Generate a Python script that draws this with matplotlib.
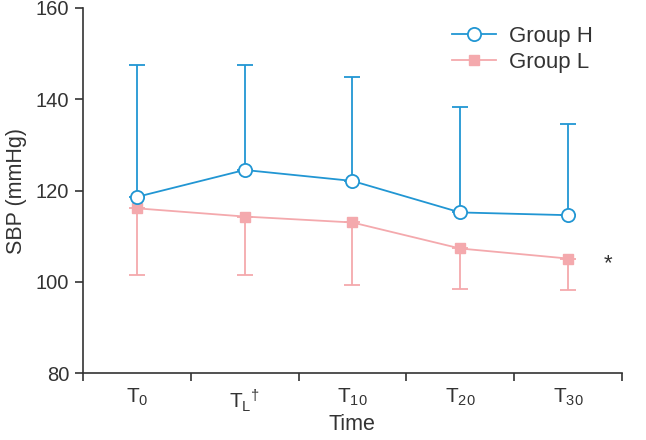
import matplotlib
matplotlib.use("Agg")
import matplotlib.pyplot as plt
from matplotlib.lines import Line2D
import numpy as np

plt.rcParams['font.family'] = ['Liberation Sans', 'DejaVu Sans']
plt.rcParams['mathtext.fontset'] = 'custom'
plt.rcParams['mathtext.rm'] = 'Liberation Sans'
plt.rcParams['mathtext.it'] = 'Liberation Sans'
plt.rcParams['mathtext.default'] = 'regular'

categories = [r'T$_0$', r'T$_L$$^†$', r'T$_{10}$', r'T$_{20}$', r'T$_{30}$']
group_h = [118.6, 124.5, 122.1, 115.2, 114.6]
group_h_upper = [147.5, 147.4, 144.9, 138.4, 134.5]
group_l = [116.1, 114.3, 113.0, 107.3, 105.1]
group_l_lower = [101.6, 101.5, 99.3, 98.5, 98.2]
yticks = [80, 100, 120, 140, 160]

blue = '#2196d3'
pink = '#f4a9ad'
axcol = '#333333'

fig = plt.figure(figsize=(6.46, 4.40), dpi=100)
ax = fig.add_axes([0.1285, 0.152, 0.834, 0.830])

x = np.arange(len(categories))
h = np.array(group_h); hu = np.array(group_h_upper)
l = np.array(group_l); ll = np.array(group_l_lower)

ax.errorbar(x, l, yerr=[l - ll, np.zeros_like(l)], color=pink, lw=1.3,
            marker='s', ms=7.5, mfc=pink, mec=pink, capsize=6, capthick=1.3,
            zorder=2)
ax.errorbar(x, h, yerr=[np.zeros_like(h), hu - h], color=blue, lw=1.3,
            marker='o', ms=9.5, mfc='white', mec=blue, mew=1.3, capsize=6,
            capthick=1.3, zorder=3)

ax.text(x[-1] + 0.37, l[-1] - 1.2, '*', fontsize=16, color=axcol, va='center', ha='center')

ax.set_xlim(-0.5, 4.5)
ax.set_ylim(80, 160)
ax.set_yticks(yticks)
ax.set_xticks(np.arange(-0.5, 4.6, 1.0))
ax.set_xticklabels([])
ax.set_xticks(x, minor=True)
ax.set_xticklabels(categories, minor=True)
ax.tick_params(axis='x', which='minor', length=0, pad=10, labelsize=15, labelcolor=axcol)
ax.tick_params(axis='x', which='major', length=6, width=1.2, color=axcol)
ax.tick_params(axis='y', length=6, width=1.2, color=axcol, labelsize=14.5, labelcolor=axcol, pad=4)

for s in ['top', 'right']:
    ax.spines[s].set_visible(False)
for s in ['left', 'bottom']:
    ax.spines[s].set_color(axcol)
    ax.spines[s].set_linewidth(1.2)

ax.set_xlabel('Time', fontsize=15.5, color=axcol, labelpad=0)
ax.set_ylabel('SBP (mmHg)', fontsize=15.5, color=axcol, labelpad=6)

handles = [Line2D([], [], color=blue, lw=1.3, marker='o', ms=9.5, mfc='white', mec=blue, mew=1.3),
           Line2D([], [], color=pink, lw=1.3, marker='s', ms=7.5, mfc=pink, mec=pink)]
leg = ax.legend(handles, ['Group H', 'Group L'], loc='upper left', bbox_to_anchor=(0.647, 1.005),
                frameon=False, fontsize=16, handlelength=2.0, labelspacing=0.2,
                handletextpad=0.6)
for t in leg.get_texts():
    t.set_color(axcol)

fig.savefig('out.png', dpi=100)
